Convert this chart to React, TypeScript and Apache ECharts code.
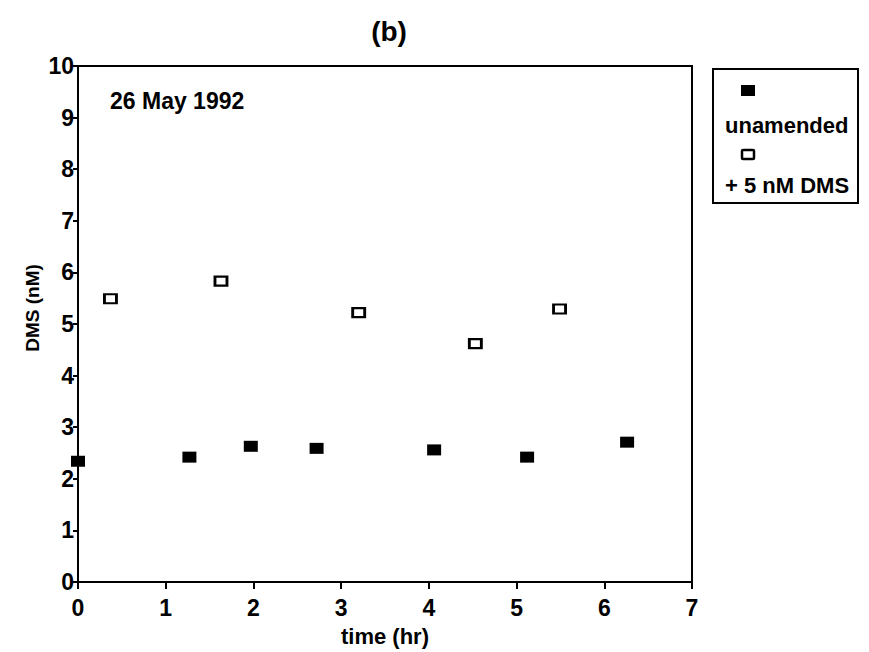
import React, { useEffect, useRef } from "react";
import * as echarts from "echarts";

// Time (hr) and DMS concentration (nM) for each treatment
const unamendedTime = [0, 1.27, 1.97, 2.72, 4.06, 5.12, 6.26];
const unamendedDMS = [2.34, 2.42, 2.63, 2.59, 2.56, 2.42, 2.71];
const amendedTime = [0.37, 1.63, 3.2, 4.53, 5.49];
const amendedDMS = [5.49, 5.83, 5.22, 4.62, 5.29];

const xTicks = [0, 1, 2, 3, 4, 5, 6, 7];
const yTicks = [0, 1, 2, 3, 4, 5, 6, 7, 8, 9, 10];

const seriesNames = ["unamended", "+ 5 nM DMS"];
const panelTitle = "(b)";
const dateLabel = "26 May 1992";
const xName = "time (hr)";
const yName = "DMS (nM)";

const FONT = "'Liberation Sans', Arial, Helvetica, sans-serif";

export default function App() {
  const ref = useRef<HTMLDivElement>(null);

  useEffect(() => {
    if (!ref.current) return;
    const chart = echarts.init(ref.current, null, { renderer: "svg" });

    const toPairs = (xs: number[], ys: number[]) => xs.map((x, i) => [x, ys[i]]);

    chart.setOption({
      animation: false,
      backgroundColor: "#fff",
      textStyle: { fontFamily: FONT, color: "#000" },
      title: {
        text: panelTitle,
        left: 384,
        textAlign: "center",
        top: 12,
        textStyle: { fontFamily: FONT, fontSize: 28, fontWeight: "bold", color: "#000" },
      },
      grid: {
        left: 78,
        right: 177,
        top: 66,
        bottom: 69,
        show: true,
        borderColor: "#000",
        borderWidth: 2,
        backgroundColor: "transparent",
      },
      xAxis: {
        type: "value",
        min: xTicks[0],
        max: xTicks[xTicks.length - 1],
        interval: 1,
        name: xName,
        nameLocation: "middle",
        nameGap: 43,
        nameTextStyle: { fontFamily: FONT, fontSize: 22, fontWeight: "bold", color: "#000" },
        axisLine: { show: true, lineStyle: { color: "#000", width: 2 } },
        axisTick: { show: true, inside: false, length: 7, lineStyle: { color: "#000", width: 2 } },
        axisLabel: { margin: 14, fontFamily: FONT, fontSize: 23, fontWeight: "bold", color: "#000" },
        splitLine: { show: false },
      },
      yAxis: {
        type: "value",
        min: yTicks[0],
        max: yTicks[yTicks.length - 1],
        interval: 1,
        axisLine: { show: true, lineStyle: { color: "#000", width: 2 } },
        axisTick: { show: true, inside: false, length: 5, lineStyle: { color: "#000", width: 2 } },
        axisLabel: { margin: 4, fontFamily: FONT, fontSize: 23, fontWeight: "bold", color: "#000" },
        splitLine: { show: false },
      },
      graphic: [
        {
          type: "text",
          left: 110,
          top: 89,
          style: { text: dateLabel, font: `bold 23px ${FONT}`, fill: "#000" },
        },
        {
          type: "text",
          x: 32,
          y: 308,
          rotation: Math.PI / 2,
          style: {
            text: yName,
            font: `bold 19px ${FONT}`,
            fill: "#000",
            align: "center",
            verticalAlign: "middle",
          },
        },
        // Legend box with each marker stacked above its label
        {
          type: "rect",
          shape: { x: 713, y: 69, width: 145, height: 134 },
          style: { fill: "#fff", stroke: "#000", lineWidth: 2 },
        },
        {
          type: "rect",
          shape: { x: 741, y: 85, width: 14, height: 11 },
          style: { fill: "#000" },
        },
        {
          type: "text",
          x: 725,
          y: 125,
          style: { text: seriesNames[0], font: `bold 22px ${FONT}`, fill: "#000", verticalAlign: "middle" },
        },
        {
          type: "rect",
          shape: { x: 742, y: 150, width: 12, height: 9, r: 1 },
          style: { fill: "#fff", stroke: "#000", lineWidth: 2.5 },
        },
        {
          type: "text",
          x: 725,
          y: 185,
          style: { text: seriesNames[1], font: `bold 22px ${FONT}`, fill: "#000", verticalAlign: "middle" },
        },
      ],
      series: [
        {
          name: seriesNames[0],
          type: "scatter",
          data: toPairs(unamendedTime, unamendedDMS),
          symbol: "rect",
          symbolSize: [14, 11],
          itemStyle: { color: "#000", opacity: 1 },
          clip: false,
        },
        {
          name: seriesNames[1],
          type: "scatter",
          data: toPairs(amendedTime, amendedDMS),
          symbol: "rect",
          symbolSize: [12, 9],
          itemStyle: { color: "#fff", borderColor: "#000", borderWidth: 2.5, opacity: 1 },
          clip: false,
        },
      ],
    });

    return () => chart.dispose();
  }, []);

  return <div ref={ref} style={{ width: 869, height: 652, position: "absolute", left: 0, top: 0 }} />;
}
